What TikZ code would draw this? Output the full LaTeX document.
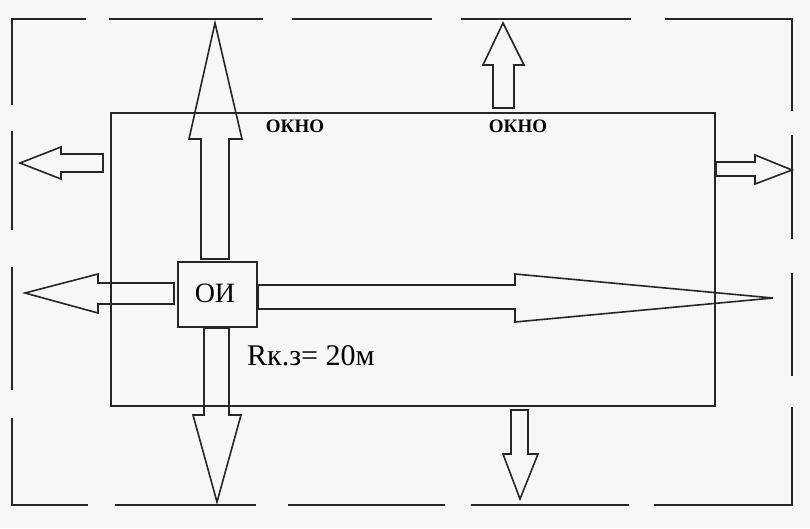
\documentclass[tikz,border=0pt]{standalone}
\usepackage{fontspec}
\setmainfont{Liberation Serif}
\begin{document}
\begin{tikzpicture}[x=1pt,y=-1pt,
  wall/.style={line width=1.8pt,black!85},
  blockarrow/.style={line width=1.6pt,black!85,line join=miter},
  lbl/.style={inner sep=0pt,anchor=base},
  okno/.style={lbl,font=\fontsize{19}{19}\selectfont\bfseries}]
\useasboundingbox (0,0) rectangle (810,528);
\fill[white!97!black] (0,0) rectangle (810,528);
% outer dashed wall (drawn as segments)
\draw[wall] (86,19) -- (12,19) -- (12,105);
\draw[wall] (109,19) -- (263,19);
\draw[wall] (292,19) -- (432,19);
\draw[wall] (461,19) -- (631,19);
\draw[wall] (665,19) -- (792,19) -- (792,111);
\draw[wall] (792,135) -- (792,239);
\draw[wall] (792,273) -- (792,376);
\draw[wall] (792,407) -- (792,505) -- (654,505);
\draw[wall] (629,505) -- (471,505);
\draw[wall] (445,505) -- (288,505);
\draw[wall] (256,505) -- (115,505);
\draw[wall] (88,505) -- (12,505) -- (12,418);
\draw[wall] (12,390) -- (12,267);
\draw[wall] (12,230) -- (12,131);
% inner room
\node[wall,draw,minimum width=604pt,minimum height=293pt,anchor=north west,inner sep=0pt] (room) at (110,112) {};
% source box
\node[wall,draw,minimum width=79pt,minimum height=65pt,anchor=north west,inner sep=0pt] (oi) at (177,261) {};
\node[lbl,font=\fontsize{28}{28}\selectfont] (oit) at (215,302) {ОИ};
% big arrows
\draw[blockarrow] (201,259) -- (201,139) -- (189,139) -- (215,23) -- (242,139) -- (229,139) -- (229,259) -- cycle;
\draw[blockarrow] (174,283) -- (98,283) -- (98,274) -- (25,293) -- (98,313) -- (98,304) -- (174,304) -- cycle;
\draw[blockarrow] (204,328) -- (204,415) -- (193,415) -- (217,502) -- (241,415) -- (229,415) -- (229,328) -- cycle;
\draw[blockarrow] (258,285) -- (515,285) -- (515,274) -- (773,298) -- (515,322) -- (515,309) -- (258,309) -- cycle;
% small arrows
\draw[blockarrow] (103,154) -- (61,154) -- (61,147) -- (20,163) -- (61,179) -- (61,172) -- (103,172) -- cycle;
\draw[blockarrow] (493,108) -- (493,65) -- (483,65) -- (503,23) -- (524,65) -- (514,65) -- (514,108) -- cycle;
\draw[blockarrow] (716,162) -- (755,162) -- (755,155) -- (792,170) -- (755,184) -- (755,176) -- (716,176) -- cycle;
\draw[blockarrow] (511,410) -- (511,454) -- (503,454) -- (520,499) -- (538,454) -- (528,454) -- (528,410) -- cycle;
% labels
\node[okno] (w1) at (295,132) {ОКНО};
\node[okno] (w2) at (518,132) {ОКНО};
\node[lbl,anchor=base west,font=\fontsize{30}{30}\selectfont] (r) at (247,365) {Rк.з= 20м};
\end{tikzpicture}
\end{document}
